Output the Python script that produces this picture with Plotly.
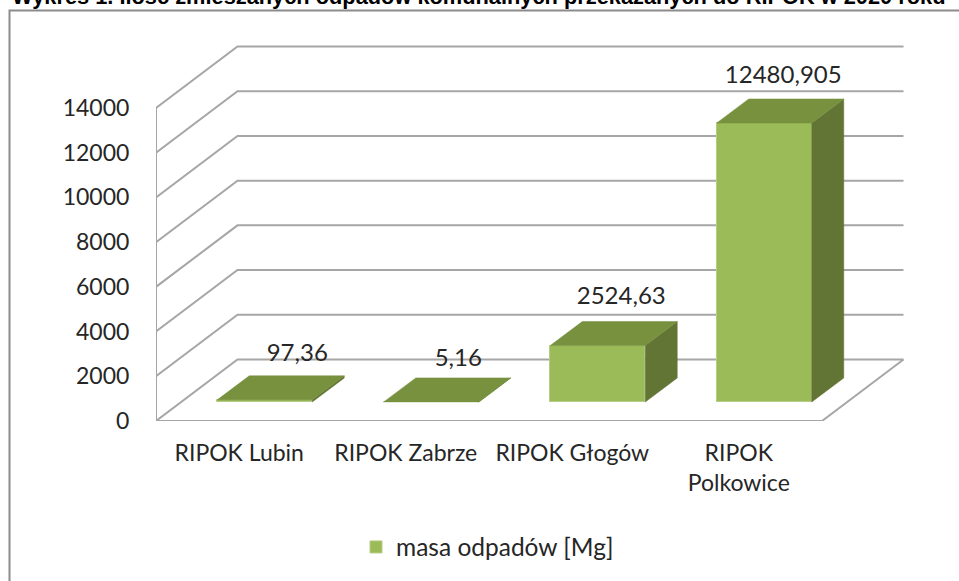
import plotly.graph_objects as go

W, H = 959, 581

categories = ["RIPOK Lubin", "RIPOK Zabrze", "RIPOK Głogów", "RIPOK<br>Polkowice"]
values = [97.36, 5.16, 2524.63, 12480.905]
value_labels = ["97,36", "5,16", "2524,63", "12480,905"]
y_ticks = [0, 2000, 4000, 6000, 8000, 10000, 12000, 14000]
series_name = "masa odpadów [Mg]"
title = "Wykres 1. Ilość zmieszanych odpadów komunalnych przekazanych do RIPOK w 2020 roku"

FONT = "Lato"
GRID = "#a6a6a6"
FRONT, TOP, SIDE = "#9bbb59", "#77913f", "#637534"
TXT = "#262626"


def fx(p):
    return p / W


def fy(p):
    return 1 - p / H


xs = list(range(len(categories)))
YMAX = y_ticks[-1]
# pixel geometry of the pseudo-3D box: front plane 156..822 / 108..421, depth 81.5 / 62
BOX_X, BOX_Y = (156, 910), (36, 421)
xu = (822 - 156) / len(xs)      # px per category
yu = (421 - 108) / YMAX         # px per value
x_range = [-0.5, -0.5 + (BOX_X[1] - BOX_X[0]) / xu]
y_range = [0, (BOX_Y[1] - BOX_Y[0]) / yu]

wall_dx = 81.5 / xu
wall_dy = 61.5 / yu
bar_w = 95 / xu
bar_off = 25.5 / xu
bar_floor = 19 / yu
depth_x = 32 / xu
depth_y = 24 / yu
label_dx = [58 / xu, 52.5 / xu, 49 / xu, 44.5 / xu]
label_gap = [21 / yu, 18 / yu, 24 / yu, 22 / yu]

fig = go.Figure()

# walls, floor and gridlines sit on the lower subplot, underneath the bars
ex, ey = [], []
for t in y_ticks:
    ex += [-0.5, -0.5 + wall_dx, 3.5 + wall_dx, None]
    ey += [t, t + wall_dy, t + wall_dy, None]
ex += [-0.5, -0.5, None, -0.5, 3.5, 3.5 + wall_dx]
ey += [0, YMAX, None, 0, 0, wall_dy]
fig.add_trace(go.Scatter(x=ex, y=ey, mode="lines", line=dict(color=GRID, width=2),
                         showlegend=False, hoverinfo="skip", xaxis="x", yaxis="y"))

# side and top faces
sx, sy, tx, ty = [], [], [], []
for i, v in zip(xs, values):
    l = i + bar_off - bar_w / 2
    r = i + bar_off + bar_w / 2
    b = bar_floor
    h = bar_floor + v
    sx += [r, r + depth_x, r + depth_x, r, r, None]
    sy += [b, b + depth_y, h + depth_y, h, b, None]
    tx += [l, r, r + depth_x, l + depth_x, l, None]
    ty += [h, h, h + depth_y, h + depth_y, h, None]
for px_, py_, col in [(sx, sy, SIDE), (tx, ty, TOP)]:
    fig.add_trace(go.Scatter(x=px_, y=py_, mode="lines", fill="toself", fillcolor=col,
                             line=dict(color=col, width=0.5),
                             showlegend=False, hoverinfo="skip", xaxis="x2", yaxis="y2"))

# front faces
fig.add_trace(go.Bar(x=[i + bar_off for i in xs], y=values, base=bar_floor, width=bar_w,
                     marker=dict(color=FRONT, line=dict(color="#b5cc85", width=1)),
                     name=series_name, xaxis="x2", yaxis="y2"))

# data labels
fig.add_trace(go.Scatter(x=[i + d for i, d in zip(xs, label_dx)],
                         y=[bar_floor + v + depth_y + g for v, g in zip(values, label_gap)],
                         text=value_labels, mode="text", textposition="middle center",
                         textfont=dict(family=FONT, size=24, color=TXT), cliponaxis=False,
                         showlegend=False, hoverinfo="skip", xaxis="x2", yaxis="y2"))

dom_x = [fx(BOX_X[0]), fx(BOX_X[1])]
dom_y = [fy(BOX_Y[1]), fy(BOX_Y[0])]
fig.update_layout(
    width=W, height=H, margin=dict(l=0, r=0, t=0, b=0, autoexpand=False),
    paper_bgcolor="white", plot_bgcolor="rgba(0,0,0,0)",
    font=dict(family=FONT, size=23, color=TXT),
    bargap=0,
    xaxis=dict(domain=dom_x, range=x_range, visible=False),
    yaxis=dict(domain=dom_y, range=y_range, visible=False),
    xaxis2=dict(domain=dom_x, range=x_range, anchor="y2",
                tickvals=xs, ticktext=categories, showgrid=False, zeroline=False,
                showline=False, ticks="outside", ticklen=11,
                tickcolor="rgba(0,0,0,0)", tickangle=0),
    yaxis2=dict(domain=dom_y, range=y_range, anchor="x2",
                tickvals=y_ticks, tickformat="d", showgrid=False, zeroline=False,
                showline=False, ticks="outside", ticklen=21,
                tickcolor="rgba(0,0,0,0)"),
    legend=dict(x=fx(356), y=fy(547), xanchor="left", yanchor="middle",
                font=dict(family=FONT, size=24.5, color=TXT), bgcolor="rgba(0,0,0,0)"),
    shapes=[dict(type="rect", xref="paper", yref="paper", x0=fx(9.5), x1=fx(975),
                 y0=fy(600), y1=fy(10.5), line=dict(color="#8c8c8c", width=2), layer="below")],
    annotations=[dict(text="<b>" + title + "</b>", xref="paper", yref="paper", x=fx(10), y=fy(-3),
                      xanchor="left", yanchor="middle", showarrow=False,
                      font=dict(family="Liberation Sans", size=21.8, color="black"))],
)

fig.write_html("out.html", config={"displayModeBar": False},
               post_script="document.body.style.margin='0';")
